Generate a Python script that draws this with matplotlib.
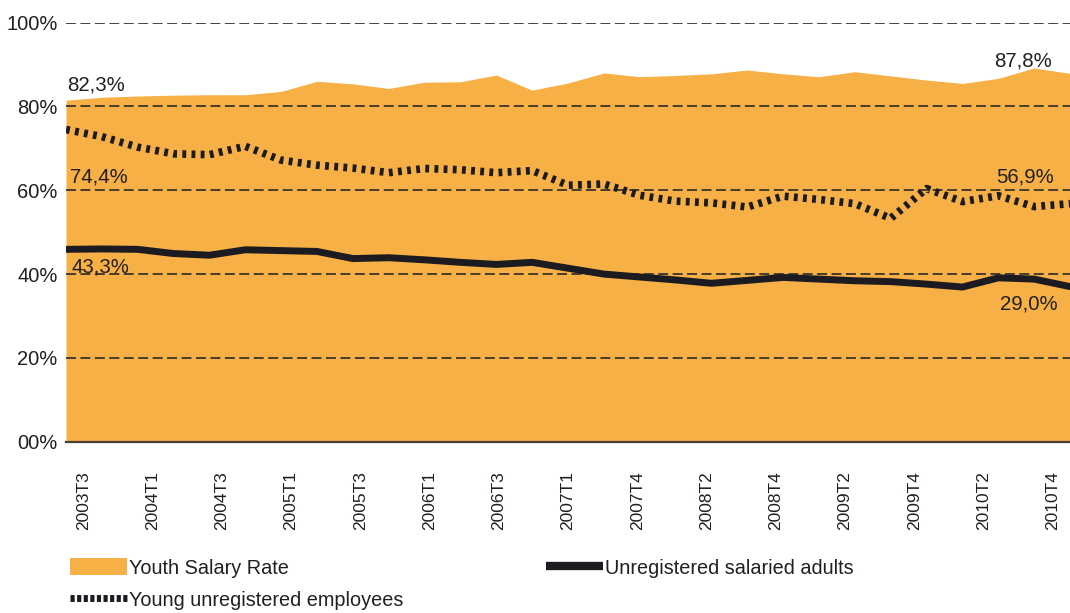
import numpy as np
import matplotlib
matplotlib.use("Agg")
import matplotlib.pyplot as plt
from matplotlib.patches import Patch
from matplotlib.lines import Line2D

plt.rcParams['font.family'] = ['Liberation Sans Narrow', 'Liberation Sans', 'DejaVu Sans']

# ---- data ----
quarters = ['2003T3', '2003T4',
            '2004T1', '2004T2', '2004T3', '2004T4',
            '2005T1', '2005T2', '2005T3', '2005T4',
            '2006T1', '2006T2', '2006T3', '2006T4',
            '2007T1', '2007T2', '2007T4',
            '2008T1', '2008T2', '2008T3', '2008T4',
            '2009T1', '2009T2', '2009T3', '2009T4',
            '2010T1', '2010T2', '2010T3', '2010T4']

youth_salary_rate = [81.5, 82.2, 82.5, 82.7, 82.8, 82.8, 83.6, 86.0, 85.4, 84.3,
                     85.8, 85.9, 87.5, 83.9, 85.6, 88.0, 87.1, 87.4, 87.8, 88.7,
                     87.8, 87.1, 88.3, 87.3, 86.3, 85.5, 86.7, 89.2, 87.9]

young_unregistered = [74.5, 72.8, 70.3, 68.7, 68.5, 70.5, 67.2, 66.0, 65.3, 64.2,
                      65.2, 64.9, 64.2, 64.7, 61.2, 61.5, 58.8, 57.4, 57.0, 56.0,
                      58.6, 57.8, 56.8, 53.3, 60.4, 57.3, 58.7, 56.1, 56.8]

unregistered_adults = [45.9, 46.0, 45.9, 44.9, 44.5, 45.8, 45.6, 45.4, 43.7, 43.9,
                       43.4, 42.8, 42.3, 42.8, 41.4, 40.0, 39.3, 38.6, 37.8, 38.5,
                       39.2, 38.8, 38.4, 38.2, 37.6, 36.9, 39.1, 38.8, 37.0]

ytick_vals = [0, 20, 40, 60, 80, 100]
ytick_labels = ['00%', '20%', '40%', '60%', '80%', '100%']

annotations = [('82,3%', 0.03, 83.8, 'left'), ('74,4%', 0.11, 61.8, 'left'),
               ('43,3%', 0.16, 40.3, 'left'), ('87,8%', 27.5, 89.5, 'right'),
               ('56,9%', 27.55, 61.9, 'right'), ('29,0%', 27.66, 31.6, 'right')]

label_names = ['Youth Salary Rate', 'Young unregistered employees',
               'Unregistered salaried adults']

# ---- style ----
ORANGE = '#F6B045'
DARK = '#1c1b22'
TXT = '#231f20'

fig = plt.figure(figsize=(10.70, 6.13), dpi=100)
ax = fig.add_axes([0.0617, 0.2795, 0.9383, 0.6835])

n = len(quarters)
x = np.arange(n)

ax.fill_between(x, 0, youth_salary_rate, color=ORANGE, lw=0, zorder=1)

for v in ytick_vals[1:]:
    ax.axhline(v, color='#3a3330', lw=1.3, ls=(0, (5.5, 2.5)), zorder=2)

ax.plot(x, young_unregistered, color=DARK, lw=5.5, ls=(0, (0.5, 0.7)),
        solid_capstyle='butt', dash_capstyle='butt', zorder=4)
ax.plot(x, unregistered_adults, color=DARK, lw=5.0, solid_capstyle='round',
        solid_joinstyle='round', zorder=4)

ax.set_xlim(0, n - 1)
ax.set_ylim(0, 100)

# category labels centred in their bands
shown = list(range(0, n, 2))
tick_pos = [(j + 0.5) * (n - 1) / n for j in shown]
ax.set_xticks(tick_pos)
ax.set_xticklabels([quarters[j] for j in shown], rotation=90, fontsize=12.5,
                   color=TXT)
ax.tick_params(axis='x', length=0, pad=21)

ax.set_yticks(ytick_vals)
ax.set_yticklabels(ytick_labels, fontsize=14.5, color=TXT)
ax.tick_params(axis='y', length=0, pad=6)

for s in ['top', 'right', 'left']:
    ax.spines[s].set_visible(False)
ax.spines['bottom'].set_color('#4a3f35')
ax.spines['bottom'].set_linewidth(1.6)
ax.spines['bottom'].set_zorder(5)

for txt, xv, yv, ha in annotations:
    ax.text(xv, yv, txt, ha=ha, va='baseline', fontsize=14.7, color=TXT,
            zorder=6)

handles = [Patch(facecolor=ORANGE, edgecolor='none'),
           Line2D([], [], color=DARK, lw=5.0, ls=(0, (0.6, 0.35)),
                  dash_capstyle='butt'),
           Line2D([], [], color=DARK, lw=6.0, solid_capstyle='butt')]
fig.legend(handles, label_names, loc='upper left',
           bbox_to_anchor=(0.0654, 0.089), ncol=2, frameon=False,
           fontsize=14.3, handlelength=2.85, handleheight=0.9,
           handletextpad=0.12, columnspacing=7.2, labelspacing=0.65,
           borderpad=0, borderaxespad=0, labelcolor=TXT)

fig.savefig('out.png', dpi=100)
